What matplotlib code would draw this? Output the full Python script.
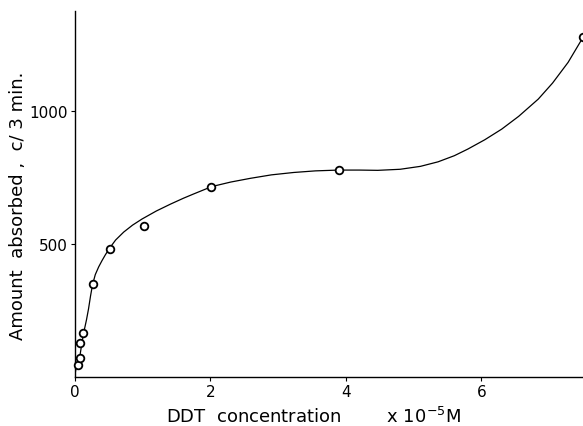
import matplotlib
matplotlib.use("Agg")
import matplotlib.pyplot as plt

# measured points (DDT conc. x 1e-5 M, counts / 3 min)
conc = [0.04, 0.07, 0.08, 0.12, 0.27, 0.51, 1.02, 2.01, 3.9, 7.5]
absorbed = [46, 70, 127, 167, 351, 483, 566, 715, 779, 1277]

# hand-drawn smooth curve
curve_x = [0, 0.03, 0.07, 0.1, 0.13, 0.17, 0.2, 0.23, 0.26, 0.3, 0.35,
           0.4, 0.45, 0.51, 0.6, 0.72, 0.85, 0.99, 1.2, 1.41, 1.6, 1.75,
           2.02, 2.3, 2.59, 2.9, 3.23, 3.55, 3.89, 4.2, 4.47, 4.8, 5.1,
           5.36, 5.6, 5.8, 6.05, 6.3, 6.55, 6.84, 7.05, 7.28, 7.5]
curve_y = [11, 49, 74, 124, 168, 215, 256, 305, 348, 385, 414,
           438, 460, 484, 515, 545, 571, 594, 624, 650, 672, 688,
           716, 733, 747, 760, 769, 775, 778, 778, 777, 781, 792,
           809, 832, 857, 892, 932, 980, 1045, 1105, 1183, 1277]

xticks = [0, 2, 4, 6]
yticks = [500, 1000]

plt.rcParams['font.family'] = 'DejaVu Sans'

fig = plt.figure(figsize=(5.83, 4.27), dpi=100)
ax = fig.add_axes([0.1286, 0.1148, 0.8714, 0.857])

ax.plot(curve_x, curve_y, color='black', lw=0.9)
ax.plot(conc, absorbed, 'o', ms=5.5, mfc='white', mec='black', mew=1.3,
        clip_on=False, zorder=3)

ax.set_xlim(0, 7.5)
ax.set_ylim(0, 1376)
ax.set_xticks(xticks)
ax.set_yticks(yticks)
ax.tick_params(direction='out', length=3, width=0.8, labelsize=11, pad=2)

for s in ['top', 'right']:
    ax.spines[s].set_visible(False)
for s in ['left', 'bottom']:
    ax.spines[s].set_linewidth(1.0)

ax.set_ylabel('Amount  absorbed ,  c/ 3 min.', fontsize=13)
ax.yaxis.set_label_coords(-0.095, 0.47)
ax.set_xlabel('DDT  concentration        x 10$^{-5}$M', fontsize=13)
ax.xaxis.set_label_coords(0.47, -0.078)

fig.savefig('out.png', dpi=100)
